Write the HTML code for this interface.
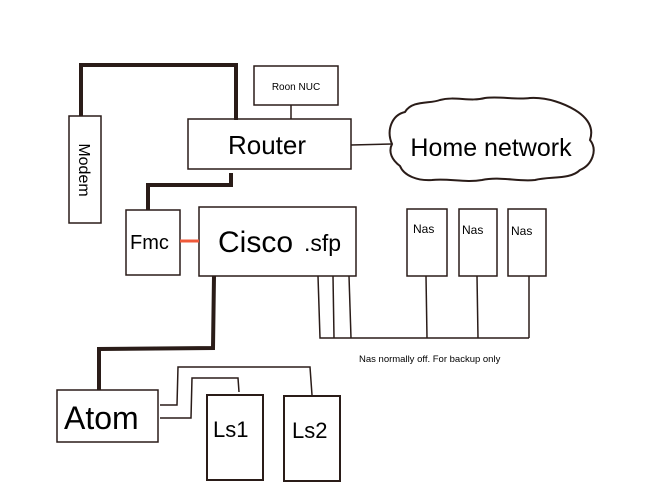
<!DOCTYPE html>
<html><head><style>
html,body{margin:0;padding:0;background:#fff;}
svg{display:block;}
text{font-family:"Liberation Sans",Arial,sans-serif;fill:#000;}
</style></head><body>
<svg width="666" height="500" viewBox="0 0 666 500" xmlns="http://www.w3.org/2000/svg">
<g fill="none" stroke="#2a1c18">
<polyline points="81,116 81,65 236,65 236,120" stroke-width="4"/>
<polyline points="231,173 231,185 148,185 148,210" stroke-width="4"/>
<polyline points="214,276 213,348 99,349 99,390" stroke-width="4"/>
<rect x="69" y="116" width="32" height="107" stroke-width="1.5"/>
<rect x="254" y="66" width="84" height="39" stroke-width="1.5"/>
<line x1="291" y1="105" x2="291" y2="119" stroke-width="1.5"/>
<rect x="188" y="119" width="163" height="50" stroke-width="1.5"/>
<rect x="126" y="210" width="54" height="65" stroke-width="1.5"/>
<rect x="199" y="207" width="157" height="69" stroke-width="1.5"/>
<rect x="407" y="209" width="40" height="67" stroke-width="1.5"/>
<rect x="459" y="209" width="38" height="67" stroke-width="1.5"/>
<rect x="508" y="209" width="38" height="67" stroke-width="1.5"/>
<rect x="57" y="390" width="101" height="52" stroke-width="1.5"/>
<rect x="207" y="395" width="56" height="85" stroke-width="2"/>
<rect x="284" y="396" width="56" height="85" stroke-width="2"/>
<polyline points="318,276 320,338 529,338" stroke-width="1.5"/>
<line x1="333" y1="276" x2="334" y2="338" stroke-width="1.5"/>
<line x1="349" y1="276" x2="351" y2="338" stroke-width="1.5"/>
<line x1="426" y1="276" x2="427" y2="338" stroke-width="1.5"/>
<line x1="477" y1="276" x2="478" y2="338" stroke-width="1.5"/>
<line x1="529" y1="276" x2="529" y2="338" stroke-width="1.5"/>
<polyline points="160,405 177,405 178,367 310,367 312,395" stroke-width="1.5"/>
<polyline points="160,418 191,418 192,378 238,378 239,392" stroke-width="1.5"/>
<line x1="351" y1="145" x2="392" y2="144" stroke-width="1.5"/>
<path d="M392,144 C386,130 392,115 405,112 C412,100 430,104 440,100 C455,96 470,102 485,98 C500,96 515,100 530,98 C548,97 565,104 575,110 C588,118 594,128 590,140 C598,150 592,165 580,170 C570,180 550,176 535,180 C518,182 500,176 482,180 C465,183 448,178 432,180 C418,181 404,176 400,166 C392,160 388,152 392,144 Z" stroke-width="2"/>
</g>
<line x1="180" y1="241" x2="199" y2="241" stroke="#f05a3a" stroke-width="3"/>
<text x="0" y="0" font-size="16" transform="translate(79,170) rotate(90)" text-anchor="middle">Modem</text>
<text x="296" y="90" font-size="10" text-anchor="middle">Roon NUC</text>
<text x="267" y="154" font-size="26" text-anchor="middle">Router</text>
<text x="491" y="156" font-size="25" text-anchor="middle">Home network</text>
<text x="130" y="249" font-size="20">Fmc</text>
<text x="218" y="252" font-size="30">Cisco</text>
<text x="304" y="251" font-size="23">.sfp</text>
<text x="413" y="233" font-size="12">Nas</text>
<text x="462" y="234" font-size="12">Nas</text>
<text x="511" y="235" font-size="12">Nas</text>
<text x="359" y="362" font-size="9.5">Nas normally off. For backup only</text>
<text x="64" y="429" font-size="32">Atom</text>
<text x="213" y="437" font-size="22">Ls1</text>
<text x="292" y="438" font-size="22">Ls2</text>
</svg>
</body></html>
